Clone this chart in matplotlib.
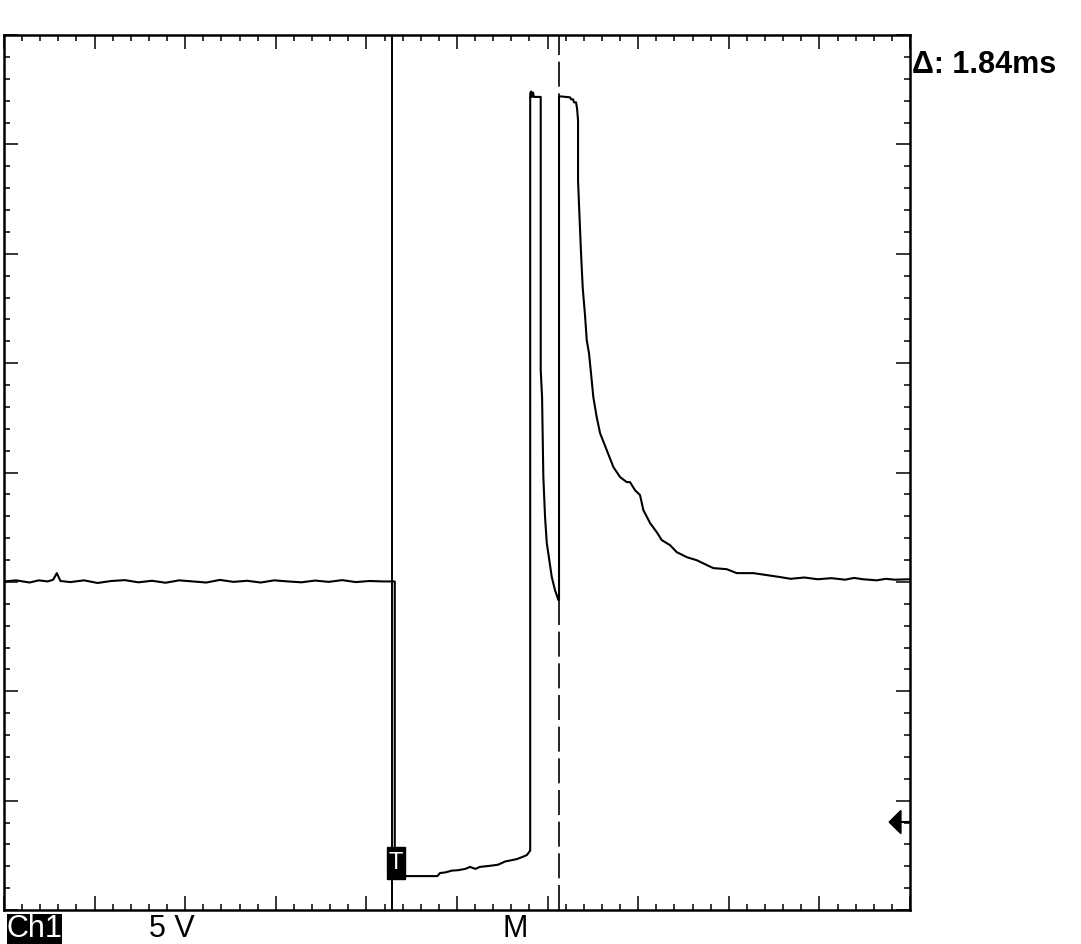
import numpy as np
import matplotlib.pyplot as plt
from matplotlib.patches import Rectangle, Polygon
from matplotlib.ticker import FixedLocator, NullFormatter

plt.rcParams['font.family'] = ['Liberation Sans', 'DejaVu Sans']

# trace: time in ms from trigger, volts above the ground marker
t_idle = [-4.28, -4.15, -4.0, -3.9, -3.8, -3.74, -3.70, -3.66, -3.55, -3.4, -3.25,
          -3.1, -2.95, -2.8, -2.65, -2.5, -2.35, -2.2, -2.05, -1.9, -1.75, -1.6,
          -1.45, -1.3, -1.15, -1.0, -0.85, -0.7, -0.55, -0.4, -0.25, -0.1, 0.03]
v_idle = [11.0, 11.05, 10.95, 11.05, 11.0, 11.08, 11.38, 11.02, 10.97, 11.05, 10.93,
          11.02, 11.06, 10.96, 11.03, 10.94, 11.05, 11.0, 10.95, 11.07, 10.98, 11.03,
          10.95, 11.05, 11.0, 10.96, 11.04, 10.98, 11.06, 10.97, 11.02, 11.0, 11.0]

t_on = [0.03, 0.14, 0.50, 0.53, 0.59, 0.66, 0.73, 0.81, 0.86, 0.92, 0.97, 1.08,
        1.17, 1.25, 1.30, 1.38, 1.46, 1.49, 1.525]
v_on = [-2.47, -2.47, -2.47, -2.33, -2.30, -2.22, -2.20, -2.14, -2.05, -2.14, -2.05, -2.0,
        -1.95, -1.80, -1.76, -1.69, -1.56, -1.50, -1.30]

t_spike1 = [1.525, 1.535, 1.545, 1.556, 1.566, 1.60, 1.641, 1.641, 1.656, 1.67,
            1.689, 1.708, 1.736, 1.763, 1.799, 1.836]
v_spike1 = [33.3, 33.4, 33.15, 33.35, 33.15, 33.15, 33.15, 20.66, 19.42, 15.77,
            13.94, 12.75, 11.97, 11.2, 10.6, 10.15]

t_spike2 = [1.843, 1.965, 1.976, 1.998, 2.009, 2.031, 2.042, 2.053, 2.053, 2.064,
            2.086, 2.105, 2.13, 2.149, 2.174, 2.196, 2.222, 2.259, 2.296, 2.37,
            2.443, 2.517, 2.591, 2.627, 2.682, 2.737, 2.774, 2.848, 2.922, 2.977,
            3.068, 3.142, 3.253, 3.363, 3.474, 3.546, 3.694, 3.805, 3.988, 4.136, 4.283]
v_spike2 = [33.18, 33.13, 33.04, 33.04, 32.9, 32.9, 32.63, 32.08, 29.34, 28.2,
            26.0, 24.4, 23.17, 22.03, 21.43, 20.52, 19.42, 18.51, 17.78, 17.0,
            16.23, 15.77, 15.54, 15.54, 15.17, 14.95, 14.26, 13.67, 13.25, 12.89,
            12.66, 12.34, 12.11, 11.97, 11.75, 11.61, 11.56, 11.38, 11.38, 11.29, 11.2]

t_tail = [4.4, 4.55, 4.7, 4.85, 5.0, 5.1, 5.2, 5.35, 5.45, 5.55, 5.72]
v_tail = [11.12, 11.18, 11.1, 11.15, 11.08, 11.16, 11.1, 11.05, 11.12, 11.08, 11.1]

cursor_a = 0.0
cursor_b = 1.84
ms_per_div = 1
volts_per_div = 5

t = t_idle + t_on + t_spike1 + [1.843] + t_spike2 + t_tail
v = v_idle + v_on + v_spike1 + [10.15] + v_spike2 + v_tail

x0, x1 = -4.283, -4.283 + 10 * ms_per_div
y0, y1 = -4.02, -4.02 + 8 * volts_per_div

fig = plt.figure(figsize=(10.81, 9.44), dpi=100)
ax = fig.add_axes([4 / 1081, 34 / 944, 906 / 1081, 875 / 944])

ax.plot(t, v, color="black", lw=1.5, zorder=3)
ax.axvline(cursor_a, color="black", lw=1.4, zorder=2)
ax.axvline(cursor_b, color="black", lw=1.2, dashes=(15, 4), zorder=2)

ax.set_xlim(x0, x1)
ax.set_ylim(y0, y1)

# graticule ticks on the frame
ax.xaxis.set_major_locator(FixedLocator(x0 + np.arange(11) * ms_per_div))
ax.xaxis.set_minor_locator(FixedLocator(x0 + np.arange(51) * ms_per_div / 5))
ax.yaxis.set_major_locator(FixedLocator(y0 + np.arange(9) * volts_per_div))
ax.yaxis.set_minor_locator(FixedLocator(y0 + np.arange(41) * volts_per_div / 5))
ax.xaxis.set_major_formatter(NullFormatter())
ax.yaxis.set_major_formatter(NullFormatter())
ax.tick_params(which="both", direction="in", top=True, right=True,
               color="black", width=1.1)
ax.tick_params(which="major", length=10)
ax.tick_params(which="minor", length=4)
for s in ax.spines.values():
    s.set_linewidth(1.8)

# trigger marker
ax.add_patch(Rectangle((-0.055, -2.6), 0.198, 1.46, facecolor="black",
                       edgecolor="black", zorder=4))
ax.text(0.044, -1.87, "T", color="white", fontsize=17, ha="center",
        va="center", zorder=5)

# ground level marker on the right
tr = ax.get_yaxis_transform()
ax.add_patch(Polygon([(0.977, 0), (0.990, 0.53), (0.990, -0.53)], closed=True,
                     facecolor="black", edgecolor="black", transform=tr,
                     clip_on=False, zorder=4))
ax.plot([0.990, 1.0], [0, 0], color="black", lw=1.5, transform=tr, clip_on=False)

fig.text(912 / 1081, (944 - 73) / 944, "\u0394: %.2fms" % (cursor_b - cursor_a),
         fontsize=22, fontweight="bold", va="baseline", ha="left")

fig.patches.append(Rectangle((7 / 1081, 0), 55 / 1081, 30 / 944,
                             transform=fig.transFigure, facecolor="black"))
fig.text(34 / 1081, 7 / 944, "Ch1", color="white", fontsize=22,
         va="baseline", ha="center")
fig.text(172 / 1081, 7 / 944, "%d V" % volts_per_div, fontsize=22,
         va="baseline", ha="center")
fig.text(515 / 1081, 7 / 944, "M", fontsize=22, va="baseline", ha="center")

plt.savefig("out.png", dpi=100)
